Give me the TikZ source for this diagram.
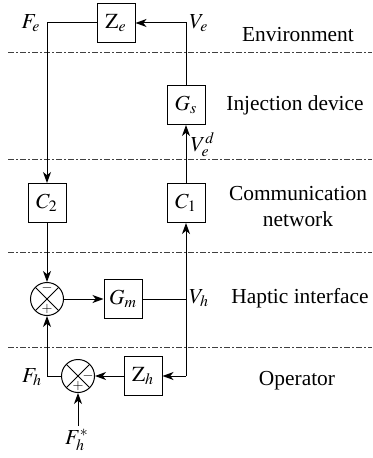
\documentclass[tikz,border=0pt]{standalone}
\usepackage{mathptmx}
\usepackage{fontspec}
\setmainfont{Liberation Serif}
\usetikzlibrary{arrows.meta}
\tikzset{
  blk/.style={draw, line width=0.5pt, minimum width=19pt, minimum height=19.5pt, inner sep=0pt},
  sumnode/.style={draw, circle, line width=0.5pt, minimum size=16.5pt, inner sep=0pt,
    path picture={\draw[line width=0.4pt] (path picture bounding box.north west) -- (path picture bounding box.south east)
                  (path picture bounding box.north east) -- (path picture bounding box.south west);}},
  conn/.style={line width=0.5pt},
  arr/.style={line width=0.5pt, -{Stealth[length=5.5pt,width=4pt,inset=1.6pt]}},
  sep/.style={line width=0.5pt, black!75, dash pattern=on 3pt off 1.2pt on 0.6pt off 1.2pt},
  lbl/.style={inner sep=0pt},
  sgn/.style={inner sep=0pt, font=\fontsize{7}{8}\selectfont},
  every node/.append style={font=\fontsize{10.7}{13}\selectfont}
}
\begin{document}
\begin{tikzpicture}[x=0.5pt,y=-0.5pt]
\useasboundingbox (0,0) rectangle (372,458);
% separators
\coordinate (s1a) at (8,53);  \coordinate (s1b) at (372,53);
\coordinate (s2a) at (8,160); \coordinate (s2b) at (372,160);
\coordinate (s3a) at (8,252); \coordinate (s3b) at (372,252);
\coordinate (s4a) at (8,347); \coordinate (s4b) at (372,347);
\draw[sep] (s1a) -- (s1b);
\draw[sep] (s2a) -- (s2b);
\draw[sep] (s3a) -- (s3b);
\draw[sep] (s4a) -- (s4b);
% blocks
\node[blk] (Ze) at (116,23) {$\mathrm{Z}_e$};
\node[blk] (Gs) at (186,105) {$G_s$};
\node[blk] (C2) at (47,203) {$C_2$};
\node[blk] (C1) at (186,203) {$C_1$};
\node[sumnode] (S1) at (47,299) {};
\node[blk] (Gm) at (123,299) {$G_m$};
\node[sumnode] (S2) at (78,376) {};
\node[blk] (Zh) at (143,376) {$\mathrm{Z}_h$};
% signs
\node[sgn] (s1m) at (47,288) {$-$};
\node[sgn] (s1p) at (47,309) {$+$};
\node[sgn] (s2m) at (88,376) {$-$};
\node[sgn] (s2p) at (78,386) {$+$};
% corner coordinates
\coordinate (ve) at (186,23);
\coordinate (fe) at (47,23);
\coordinate (vh) at (186,299);
\coordinate (vhb) at (186,376);
\coordinate (fh) at (47,376);
\coordinate (fhs) at (78,426);
% connectors
\draw[arr] (Gs.north) -- (ve) -- (Ze.east);
\draw[arr] (Ze.west) -- (fe) -- (C2.north);
\draw[arr] (C2.south) -- (S1.north);
\draw[arr] (S1.east) -- (Gm.west);
\draw[conn] (Gm.east) -- (vh);
\draw[arr] (vhb) -- (C1.south);
\draw[arr] (vhb) -- (Zh.east);
\draw[arr] (C1.north) -- (Gs.south);
\draw[arr] (Zh.west) -- (S2.east);
\draw[arr] (S2.west) -- (fh) -- (S1.south);
\draw[arr] (fhs) -- (S2.south);
% signal labels
\node[lbl] (Fe) at (31,23) {$F_e$};
\node[lbl] (Ve) at (199,23) {$V_e$};
\node[lbl] (Ved) at (203,145) {$V_e^d$};
\node[lbl] (Vh) at (199,298) {$V_h$};
\node[lbl] (Fh) at (32,377) {$F_h$};
\node[lbl] (Fhs) at (77,440) {$F_h^*$};
% region labels
\node[lbl] (env) at (298,35) {Environment};
\node[lbl] (inj) at (295,105) {Injection device};
\node[lbl, align=center] (com) at (298,207) {Communication\\network};
\node[lbl] (hap) at (300,298) {Haptic interface};
\node[lbl] (op) at (297,381) {Operator};
\end{tikzpicture}
\end{document}
